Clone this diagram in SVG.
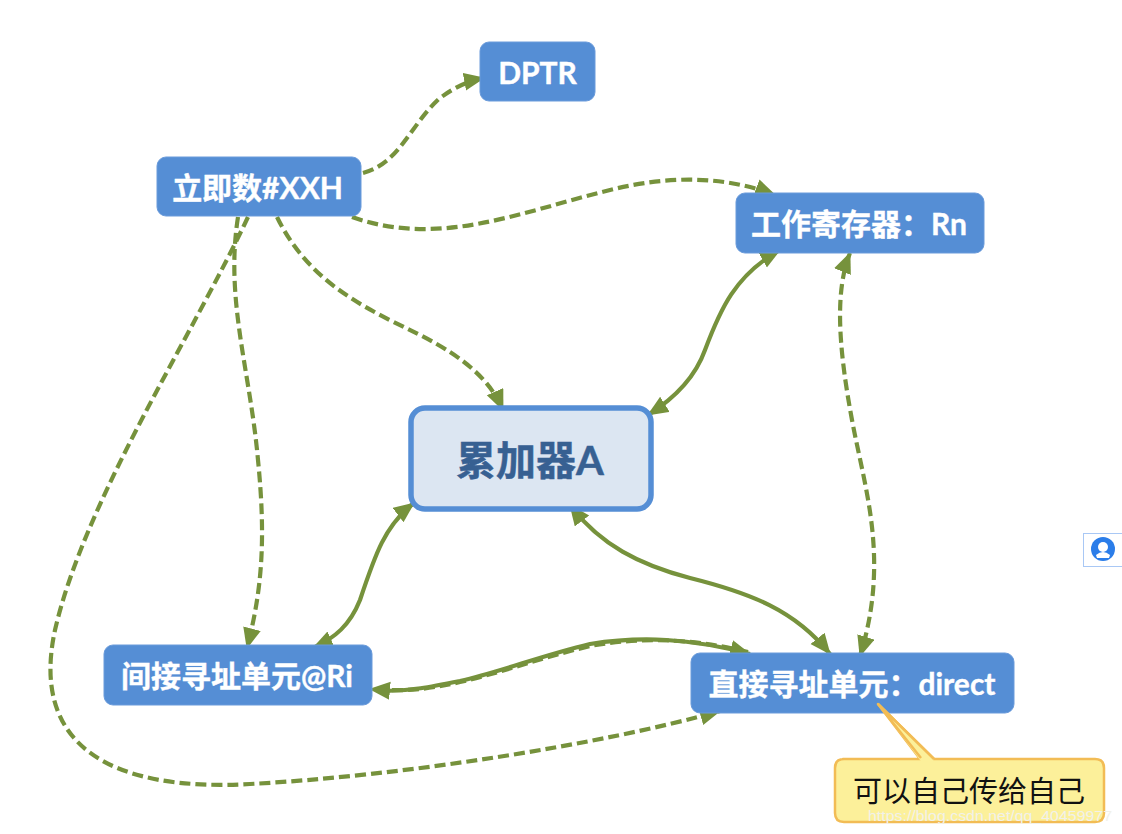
<svg xmlns="http://www.w3.org/2000/svg" width="1122" height="834" viewBox="0 0 1122 834">
<style>
.n{fill:#558ed5;stroke:#6a9bdb;stroke-width:1}
.t{fill:#fff;stroke:#fff;stroke-width:.4;font-family:"Lato","Noto Sans CJK SC",sans-serif;font-weight:700;font-size:30px;text-anchor:middle;dominant-baseline:central}
.e{fill:none;stroke:#76923c;stroke-width:4.200}
.d{stroke-dasharray:11 5}
.a{marker-end:url(#ah)}
.b{marker-start:url(#ah);marker-end:url(#ah)}
</style>
<defs>
<marker id="ah" markerUnits="userSpaceOnUse" markerWidth="24" markerHeight="20" refX="20" refY="9" orient="auto-start-reverse"><path d="M0 0L21 9L0 18Z" fill="#76923c"/></marker>
</defs>
<rect width="1122" height="834" fill="#fff"/>
<g id="connectors">
<path class="e d a" d="M363 173C400 163 410 125 440 98C455 87 468 81 484 78"/>
<path class="e d a" d="M352 217C440 248 520 212 610 190C670 175 725 176 775 195"/>
<path class="e d a" d="M277 217C310 285 370 310 420 335C465 358 490 380 503 410"/>
<path class="e d a" d="M238 217C225 300 250 370 258 460C266 540 262 590 247 648"/>
<path class="e d a" d="M248 217C190 340 85 500 55 630C30 745 110 792 250 784C400 776 600 745 720 711"/>
<path class="e b" d="M780 250C735 275 720 310 705 350C695 378 675 398 648 415"/>
<path class="e b d" d="M850 253C835 290 838 345 852 420C865 490 890 560 860 656"/>
<path class="e b" d="M414 503C385 525 375 555 360 600C350 625 335 638 313 648"/>
<path class="e b" d="M570 505C600 545 640 565 690 578C750 593 795 610 830 654"/>
<path class="e d a" d="M748 652C690 638 640 637 590 646C540 658 500 673 460 682C430 689 405 692 370 689"/>
<path class="e a" d="M385 691C410 691 430 687 460 681C500 672 540 656 590 644C640 636 690 638 750 654"/>
</g>
<g id="node-dptr"><rect class="n" x="480" y="42" width="115" height="59" rx="9"/><text class="t" x="537.500" y="72">DPTR</text></g>
<g id="node-imm"><rect class="n" x="157" y="157" width="204" height="59" rx="9"/><text class="t" x="257.500" y="187">立即数#XXH</text></g>
<g id="node-rn"><rect class="n" x="736" y="193" width="248" height="60" rx="9"/><text class="t" x="859" y="223">工作寄存器：Rn</text></g>
<g id="node-acc"><rect x="411" y="408" width="240" height="101" rx="14" fill="#dce6f2" stroke="#558ed5" stroke-width="5.500"/><text x="530" y="460" style="fill:#376092;stroke:#376092;stroke-width:.5;font-family:'Lato','Noto Sans CJK SC',sans-serif;font-weight:700;font-size:40px;text-anchor:middle;dominant-baseline:central">累加器A</text></g>
<g id="node-ri"><rect class="n" x="104" y="645" width="268" height="60" rx="9"/><text class="t" x="237" y="675">间接寻址单元@Ri</text></g>
<g id="node-direct"><rect class="n" x="691" y="653" width="323" height="60" rx="9"/><text class="t" x="852" y="683">直接寻址单元：direct</text></g>
<g id="note">
<path d="M843 759H920L878 704L934 759H1095Q1104 759 1104 768V813Q1104 822 1095 822H844Q835 822 835 813V768Q835 759 844 759Z" fill="#fcf09a" stroke="#f2bc55" stroke-width="2.500" stroke-linejoin="round"/>
<path d="M878 704L920 760H934Z" fill="#fcf09a"/>
<path d="M878 704L921 758M878 704L934 759" fill="none" stroke="#f2bc55" stroke-width="2.500"/>
<text x="969" y="789" style="fill:#111;font-family:'Noto Sans CJK SC',sans-serif;font-size:29px;text-anchor:middle;dominant-baseline:central">可以自己传给自己</text>
</g>
<text x="868" y="821" textLength="244" lengthAdjust="spacingAndGlyphs" style="fill:#f1f1ea;font-family:'Liberation Sans',sans-serif;font-size:15px">https://blog.csdn.net/qq_40459977</text>
<g id="badge">
<rect x="1083.500" y="533.500" width="40" height="33" fill="#fff" stroke="#a9c8f5"/>
<circle cx="1103" cy="549" r="12" fill="#2b7de9"/>
<circle cx="1103" cy="547" r="5" fill="#fff"/>
<path d="M1096 555Q1103 549 1110 555L1109 558H1097Z" fill="#fff"/>
</g>
</svg>
